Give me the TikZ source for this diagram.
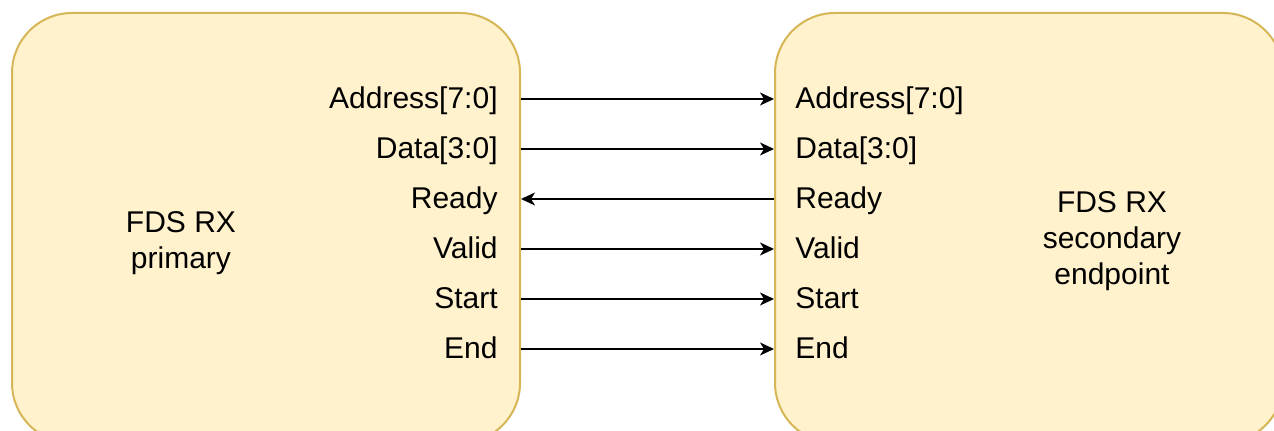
\documentclass[tikz,border=0pt]{standalone}
\usepackage{fontspec}
\setmainfont{Liberation Sans}
\usetikzlibrary{arrows.meta}
\definecolor{blokfill}{HTML}{FFF2CC}
\definecolor{blokline}{HTML}{D6B656}

\begin{document}
\begin{tikzpicture}[x=0.5pt,y=-0.5pt,
  blok/.style={draw=blokline, fill=blokfill, line width=1pt, rounded corners=30pt, minimum width=254pt, minimum height=215pt, inner sep=0pt},
  titel/.style={font=\fontsize{15}{18}\selectfont, align=center},
  poort/.style={font=\fontsize{15}{16}\selectfont, text height=1.0em, text depth=0.08em, inner sep=0pt},
  sig/.style={-{Stealth[length=7pt,width=6.5pt,inset=2pt]}, line width=0.8pt}]
  \useasboundingbox (0,0) rectangle (1274,431);
  \clip (0,0) rectangle (1274,431);
  % blocks
  \node[blok] (P) at (266,228) {};
  \node[blok] (S) at (1029,228) {};
  \node[titel] (PT) at (181,243) {FDS RX\\primary};
  \node[titel] (ST) at (1112,241) {FDS RX\\secondary\\endpoint};
  % ports
  \foreach \n/\t/\y in {a/{Address[7:0]}/99, d/{Data[3:0]}/149, r/Ready/199, v/Valid/249, s/Start/299, e/End/349} {
    \node[poort, anchor=east] (P\n) at (498,\y) {\t};
    \node[poort, anchor=west] (S\n) at (795,\y) {\t};
  }
  % signals
  \foreach \n in {a,d,v,s,e}
    \draw[sig] (P.east |- P\n) -- (S.west |- S\n);
  \draw[sig] (S.west |- Sr) -- (P.east |- Pr);
\end{tikzpicture}
\end{document}
